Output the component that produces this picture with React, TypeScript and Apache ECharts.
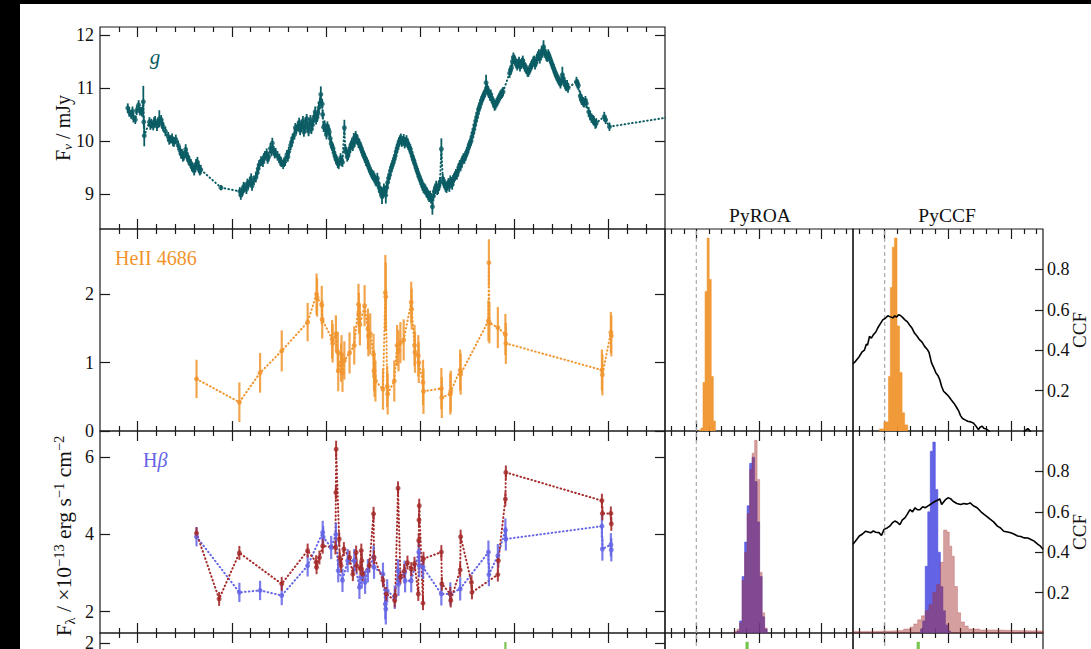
import React, { useEffect, useRef } from "react";
import * as echarts from "echarts";

const FONT = '"Liberation Serif", "Times New Roman", Times, serif';
const TEAL = "#0b5d64";
const ORANGE = "#f0952e";
const BLUE = "#6464e6";
const RED = "#a52a2a";
const GREEN = "#6cbf3f";
const HIST_BLUE = "#4848e0";
const INK = "#1a1a1a";

// ---------- light curves: [day, flux, error] ----------
const gData = [
  [-2.1,10.62,.09],[-1.8,10.55,.09],[-1.4,10.50,.08],[-1.1,10.56,.09],[-0.9,10.44,.09],[-0.5,10.40,.08],[-0.2,10.58,.09],[0.2,10.68,.09],[0.5,10.56,.08],[0.9,10.55,.09],
  [1.2,10.74,.30],[1.3,10.36,.10],[1.4,10.10,.20],
  [2.5,10.36,.09],[2.7,10.30,.09],[2.9,10.33,.09],[3.3,10.28,.08],[3.5,10.36,.09],[3.7,10.38,.09],[4.1,10.28,.09],[4.3,10.34,.09],[4.6,10.42,.16],[5.0,10.40,.09],[5.2,10.32,.09],[5.4,10.27,.09],[5.9,10.18,.09],
  [6.5,10.08,.09],[6.7,10.02,.09],[6.9,10.03,.08],[7.3,10.05,.09],[7.5,9.99,.09],[7.7,9.98,.09],[8.1,10.03,.09],[8.6,9.92,.09],[9.0,9.82,.09],[9.2,9.76,.09],[9.4,9.76,.09],[9.6,9.70,.09],[9.8,9.72,.09],[10.2,9.84,.10],[10.4,9.74,.09],[10.6,9.70,.09],[10.8,9.64,.09],[11.0,9.62,.09],[11.3,9.57,.09],[11.5,9.52,.09],[11.7,9.50,.09],[12.0,9.44,.09],[12.2,9.50,.09],[12.4,9.56,.10],[12.7,9.60,.10],[12.9,9.52,.09],[13.0,9.48,.09],[13.2,9.44,.09],[13.4,9.46,.09],
  [17.7,9.12,.05],
  [21.7,9.05,.08],[21.9,8.98,.09],[22.1,9.03,.09],[22.3,9.06,.09],[22.5,9.14,.09],[22.7,9.12,.09],[23.1,9.09,.09],[23.3,9.20,.09],[23.5,9.18,.09],[23.9,9.23,.09],[24.1,9.30,.09],[24.3,9.15,.09],[24.7,9.26,.09],[25.1,9.31,.09],[25.4,9.40,.09],[25.6,9.48,.09],[25.8,9.55,.09],[26.2,9.62,.09],[26.6,9.60,.09],[26.8,9.68,.09],[27.0,9.72,.09],[27.4,9.77,.09],[27.6,9.66,.09],[27.8,9.70,.09],[28.2,9.86,.10],[28.4,9.80,.09],[28.6,9.96,.10],[28.9,9.82,.09],[29.1,9.76,.09],[29.3,9.78,.09],[29.7,9.72,.09],[30.1,9.67,.09],[30.3,9.62,.09],[30.5,9.60,.09],[30.9,9.56,.09],[31.1,9.60,.09],[31.3,9.62,.09],[31.7,9.74,.09],[31.9,9.70,.09],[32.1,9.80,.09],[32.5,9.92,.09],[32.7,9.98,.09],[32.9,10.05,.09],[33.3,10.12,.09],[33.5,10.25,.09],[33.7,10.22,.09],[34.1,10.28,.09],[34.3,10.35,.09],[34.5,10.20,.09],[34.7,10.26,.09],[34.9,10.30,.09],[35.1,10.38,.09],[35.3,10.17,.09],[35.5,10.24,.09],[35.7,10.35,.10],[35.9,10.42,.09],[36.1,10.26,.09],[36.3,10.18,.09],[36.5,10.33,.09],[36.7,10.40,.09],[36.9,10.22,.09],[37.1,10.30,.09],[37.3,10.38,.09],[37.5,10.46,.09],[37.7,10.55,.10],[37.9,10.40,.09],[38.1,10.45,.09],[38.3,10.52,.09],[38.5,10.63,.10],[38.7,10.72,.10],[38.9,10.88,.15],[39.2,10.70,.09],[39.3,10.50,.09],[39.5,10.26,.09],[39.7,10.30,.09],[39.9,10.20,.09],[40.1,10.12,.09],[40.3,10.28,.09],[40.5,10.22,.09],[40.7,10.17,.09],[40.9,10.05,.09],[41.1,9.95,.09],[41.3,9.90,.09],[41.5,9.86,.09],[41.7,9.78,.09],[41.9,9.72,.09],[42.1,9.66,.09],[42.3,9.63,.09],[42.5,9.58,.09],[42.7,9.56,.09],[43.1,9.68,.09],[43.3,9.62,.09],[43.5,9.60,.09],[43.9,10.25,.15],[44.1,9.84,.09],[44.3,9.80,.09],[44.5,9.70,.09],[44.7,9.73,.09],[44.9,9.80,.09],[45.1,9.86,.09],[45.3,9.92,.09],[45.5,9.96,.09],[45.7,9.90,.09],[45.9,10.05,.10],[46.1,9.98,.09],[46.3,10.10,.09],[46.5,10.04,.09],[46.7,10.02,.09],[46.9,9.96,.09],[47.1,9.95,.09],[47.3,9.90,.09],[47.5,9.86,.09],[47.7,9.80,.09],[47.9,9.76,.09],[48.1,9.72,.09],[48.3,9.68,.09],[48.5,9.62,.09],[48.7,9.60,.09],[48.9,9.56,.09],[49.1,9.50,.09],[49.3,9.46,.09],[49.5,9.42,.09],[49.7,9.38,.09],[49.9,9.35,.09],[50.1,9.34,.10],[50.3,9.30,.10],[50.5,9.26,.10],[50.7,9.24,.10],[50.9,9.30,.10],[51.1,9.20,.10],[51.3,9.12,.10],[51.5,9.06,.10],[51.7,9.04,.10],[51.9,8.95,.14],[52.1,9.02,.10],[52.3,9.10,.10],[52.5,9.06,.10],[52.7,8.98,.16],[52.9,9.12,.10],[53.1,9.22,.10],[53.3,9.30,.09],[53.5,9.36,.09],[53.7,9.44,.09],[53.9,9.50,.09],[54.1,9.55,.09],[54.3,9.60,.09],[54.5,9.66,.09],[54.7,9.72,.09],[54.9,9.80,.09],[55.1,9.86,.09],[55.3,9.92,.09],[55.5,9.98,.09],[55.7,10.02,.09],[55.9,10.05,.09],[56.1,9.98,.09],[56.3,10.00,.09],[56.5,10.04,.09],[56.7,9.95,.09],[56.9,9.98,.09],[57.1,10.02,.09],[57.3,9.96,.09],[57.5,9.92,.09],[57.7,9.88,.09],[57.9,9.85,.09],[58.1,9.78,.09],[58.3,9.72,.09],[58.5,9.66,.09],[58.7,9.62,.09],[58.9,9.56,.09],[59.1,9.50,.09],[59.3,9.45,.09],[59.5,9.40,.09],[59.7,9.34,.09],[59.9,9.30,.09],[60.1,9.26,.09],[60.3,9.20,.09],[60.5,9.16,.10],[60.7,9.12,.10],[60.9,9.10,.10],[61.1,9.08,.10],[61.3,9.04,.10],[61.5,9.02,.10],[61.7,8.98,.10],[61.9,8.95,.10],[62.1,8.96,.10],[62.3,8.92,.10],[62.6,8.76,.15],[62.8,8.96,.10],[63.0,9.05,.10],[63.2,9.10,.10],[63.4,9.15,.10],[63.6,9.08,.10],[63.8,9.10,.10],[64.0,9.16,.10],[64.2,9.22,.10],[64.5,9.85,.20],[64.8,9.28,.10],[65.0,9.22,.10],[65.2,9.18,.10],[65.4,9.14,.10],[65.6,9.12,.10],[65.8,9.16,.10],[66.0,9.20,.10],[66.2,9.14,.10],[66.4,9.25,.10],[66.6,9.22,.10],[66.8,9.18,.10],[67.0,9.26,.10],[67.2,9.30,.09],[67.4,9.34,.09],[67.6,9.38,.09],[67.8,9.36,.09],[68.0,9.42,.09],[68.2,9.50,.09],[68.4,9.55,.09],[68.6,9.52,.09],[68.8,9.60,.09],[69.0,9.64,.09],[69.2,9.68,.09],[69.4,9.66,.09],[69.6,9.72,.09],[69.8,9.76,.09],[70.0,9.80,.09],[70.2,9.86,.09],[70.4,9.92,.09],[70.6,9.96,.09],[70.8,10.00,.09],[71.0,10.08,.09],[71.2,10.15,.09],[71.4,10.22,.09],[71.6,10.30,.09],[71.8,10.38,.09],[72.0,10.45,.09],[72.2,10.52,.09],[72.4,10.60,.09],[72.6,10.64,.09],[72.8,10.70,.09],[73.0,10.76,.09],[73.2,10.80,.09],[73.4,10.84,.09],[73.6,10.88,.09],[73.8,10.92,.09],[74.0,11.10,.15],[74.2,11.00,.09],[74.4,10.95,.09],[74.6,10.90,.09],[74.8,10.85,.09],[75.0,10.88,.09],[75.2,10.80,.09],[75.4,10.76,.09],[75.6,10.72,.09],[75.8,10.66,.09],[76.0,10.68,.09],[76.2,10.72,.09],[76.4,10.75,.09],[76.6,10.78,.09],[76.8,10.82,.09],[77.0,10.86,.09],[77.2,10.88,.09],[77.4,10.90,.09],[77.6,10.93,.09],
  [79.0,11.28,.09],[79.2,11.34,.09],[79.4,11.38,.09],[79.6,11.50,.09],[79.8,11.58,.09],[80.0,11.54,.09],[80.2,11.50,.09],[80.4,11.46,.09],[80.6,11.42,.09],[80.8,11.46,.09],[81.0,11.50,.09],[81.2,11.40,.09],[81.4,11.45,.09],[81.6,11.48,.09],[81.8,11.52,.09],[82.0,11.45,.09],[82.2,11.40,.09],[82.4,11.38,.09],[82.6,11.35,.09],[82.8,11.30,.09],[83.0,11.30,.09],[83.2,11.34,.09],[83.4,11.38,.09],[83.6,11.42,.09],[83.8,11.45,.09],[84.0,11.50,.09],[84.2,11.52,.09],[84.4,11.44,.09],[84.6,11.48,.09],[84.8,11.55,.09],[85.0,11.60,.09],[85.2,11.64,.09],[85.4,11.55,.09],[85.6,11.62,.09],[85.8,11.70,.09],[86.0,11.66,.09],[86.2,11.78,.12],[86.4,11.70,.09],[86.6,11.65,.09],[86.8,11.60,.09],[87.0,11.58,.09],[87.2,11.64,.09],[87.4,11.60,.09],[87.6,11.55,.09],[87.8,11.50,.09],[88.0,11.45,.09],[88.2,11.40,.09],[88.4,11.36,.09],[88.6,11.30,.09],[88.8,11.26,.09],[89.0,11.22,.09],[89.2,11.18,.09],[89.4,11.15,.09],[89.6,11.12,.09],[89.8,11.08,.09],[90.0,11.14,.09],[90.2,11.25,.15],[90.4,11.18,.09],[90.6,11.12,.09],[90.8,11.06,.09],[91.0,11.03,.09],[91.2,11.06,.09],[91.4,11.00,.09],
  [93.2,11.12,.09],[93.4,11.08,.09],[93.6,11.05,.09],[94.0,10.85,.09],[94.2,10.80,.09],[94.3,10.77,.09],[94.6,10.74,.09],[94.8,10.72,.09],[95.1,10.76,.09],[95.3,10.71,.09],[95.8,10.55,.09],[96.1,10.48,.09],[96.4,10.43,.09],[96.7,10.40,.09],[96.9,10.38,.09],[97.2,10.32,.09],[97.4,10.34,.09],[99.1,10.46,.09],[99.4,10.40,.08],[100.2,10.27,.08],
  [118,10.52,.06],
];

const heData = [
  [12.5,0.76,0.28],[21.6,0.42,0.29],[26.0,0.85,0.29],[30.6,1.17,0.30],[36.1,1.59,0.28],[38.0,2.00,0.30],[38.1,1.95,0.28],[39.1,1.84,0.28],[39.2,1.63,0.28],
  [41.3,1.34,0.28],[41.4,1.28,0.28],[42.1,1.42,0.27],[42.5,1.15,0.30],[42.6,0.88,0.30],[43.2,1.00,0.28],[43.3,1.12,0.28],[43.5,0.85,0.28],[43.9,1.03,0.28],
  [45.0,1.14,0.30],[46.0,1.25,0.28],[46.9,1.85,0.30],[47.0,1.72,0.30],[47.2,1.55,0.30],[48.2,1.83,0.30],[48.9,1.49,0.30],[49.0,1.39,0.30],[49.4,1.42,0.30],
  [50.1,1.12,0.30],[50.2,0.88,0.30],[50.3,0.80,0.30],[50.5,0.73,0.30],[52.1,0.61,0.30],[52.6,2.02,0.55],[52.7,1.96,0.50],[53.0,0.65,0.30],[53.1,0.54,0.30],
  [54.5,0.73,0.30],[55.1,1.25,0.30],[55.4,1.17,0.30],[55.8,1.29,0.30],[56.5,1.33,0.30],[58.1,1.88,0.30],[58.2,1.78,0.30],[58.8,1.25,0.30],[58.9,1.15,0.30],
  [59.6,1.10,0.30],[59.7,1.00,0.30],[60.6,0.71,0.33],[60.7,0.58,0.33],[64.5,0.62,0.30],[64.6,0.49,0.30],[66.4,0.54,0.30],[66.5,0.58,0.30],[68.5,0.89,0.30],
  [68.6,0.83,0.30],[74.5,1.61,0.30],[74.6,2.46,0.34],[74.7,1.58,0.30],[76.5,1.51,0.30],[78.1,1.41,0.30],[78.2,1.28,0.30],[98.6,0.89,0.30],[98.7,0.82,0.30],
  [100.5,1.44,0.30],[100.6,1.39,0.30],
];

const hbBlueData = [
  [12.5,3.94,0.25],[21.6,2.50,0.25],[26.0,2.55,0.25],[30.6,2.42,0.25],[36.1,3.19,0.28],[39.3,4.05,0.30],[39.4,3.93,0.28],[41.1,3.66,0.30],[42.1,4.00,0.30],
  [42.6,3.06,0.30],[43.5,2.81,0.30],[44.6,3.32,0.30],[46.0,3.32,0.30],[47.1,2.63,0.30],[47.6,2.90,0.30],[48.3,2.76,0.30],[48.9,3.06,0.30],[50.1,3.41,0.30],
  [50.2,3.15,0.30],[52.1,2.97,0.30],[52.6,2.20,0.40],[52.7,2.07,0.40],[53.0,2.54,0.30],[54.6,2.37,0.30],[55.3,3.06,0.30],[55.4,2.71,0.30],[56.7,3.02,0.30],
  [56.8,2.80,0.30],[58.1,2.80,0.30],[59.7,3.54,0.30],[59.8,3.19,0.30],[60.6,3.15,0.30],[64.5,2.46,0.30],[66.4,2.46,0.30],[68.5,2.59,0.30],[74.5,3.54,0.30],
  [74.6,2.96,0.30],[76.5,3.45,0.30],[78.1,4.11,0.30],[78.2,3.88,0.30],[98.6,4.21,0.30],[98.7,3.62,0.30],[100.5,3.73,0.30],[100.6,3.60,0.30],
];

const hbRedData = [
  [12.5,4.03,0.15],[17.3,2.33,0.18],[21.6,3.52,0.18],[30.6,2.72,0.18],[36.1,3.58,0.18],[37.9,3.28,0.18],[38.0,3.15,0.18],[38.6,3.40,0.18],[39.3,3.70,0.20],
  [42.0,3.66,0.18],[42.1,5.08,0.18],[42.15,6.20,0.22],[42.8,3.88,0.18],[42.9,3.40,0.18],[43.2,3.19,0.18],[43.8,3.62,0.18],[45.0,3.40,0.18],[45.7,2.97,0.18],
  [46.4,3.53,0.18],[46.5,3.19,0.18],[47.3,3.11,0.18],[47.5,3.58,0.18],[47.6,3.32,0.18],[47.8,2.97,0.18],[49.2,3.19,0.18],[50.1,4.53,0.18],[50.2,3.41,0.18],
  [52.1,2.81,0.18],[52.8,2.46,0.18],[54.6,2.29,0.18],[54.7,2.42,0.18],[55.3,5.19,0.18],[55.8,2.89,0.18],[56.6,3.05,0.18],[57.3,3.27,0.18],[58.1,3.10,0.18],
  [58.8,3.24,0.18],[59.6,2.46,0.18],[59.7,3.84,0.18],[59.75,4.37,0.18],[59.8,4.74,0.18],[60.6,2.22,0.18],[60.7,3.37,0.18],[64.5,3.54,0.18],[64.6,2.72,0.18],
  [66.4,2.46,0.18],[66.5,2.29,0.18],[68.5,3.08,0.18],[68.6,3.94,0.18],[70.9,2.76,0.18],[71.0,2.50,0.18],[76.5,2.96,0.18],[76.6,3.32,0.18],[78.1,4.91,0.18],
  [78.2,5.60,0.18],[98.6,4.87,0.18],[98.7,4.54,0.18],[100.5,4.54,0.18],[100.6,4.27,0.18],
];

const greenData = [
  [12.5,1.20,0.20],[21.6,1.00,0.20],[36.1,1.30,0.20],[42.1,1.40,0.20],[50.1,1.10,0.20],[60.6,1.00,0.20],[68.5,1.20,0.20],[78.1,1.75,0.26],[98.6,1.50,0.20],
];

// ---------- lag distributions (normalised) ----------
const roaHeEdges = [0.4,0.73,1.06,1.39,1.72,2.05,2.38,2.71,3.04];
const roaHeCounts = [0.005,0.015,0.24,0.69,0.955,0.75,0.27,0.05];
const ccfHeEdges = [-0.85,-0.1,0.6,0.9,1.2,1.55,1.95,2.35,2.75,3.15,3.65];
const ccfHeCounts = [0.01,0.045,0.27,0.71,0.91,0.955,0.52,0.29,0.09,0.03];

const roaHbEdges = [6.1,6.5,6.9,7.3,7.7,8.1,8.5,8.9,9.3,9.7,10.1,10.5,10.9,11.3];
const roaHbBlueCounts = [0.0,0.01,0.06,0.28,0.45,0.63,0.84,0.87,0.75,0.55,0.28,0.08,0.02];
const roaHbRedCounts = [0.01,0.02,0.05,0.26,0.40,0.59,0.81,0.89,0.954,0.76,0.30,0.10,0.025];
const ccfHbBlueEdges = [5.6,6.0,6.4,6.8,7.2,7.6,8.0,8.4,8.8,9.2,9.6,10.0,10.4];
const ccfHbBlueCounts = [0.02,0.06,0.33,0.6,0.9,0.945,0.71,0.4,0.23,0.11,0.04,0.01];
const ccfHbRedEdges = [-5.0,-2.0,1.0,3.0,4.0,4.6,5.2,5.8,6.4,7.0,7.6,8.2,8.8,9.3,9.8,10.2,10.6,11.0,11.5,12.0,12.6,13.2,15.0,18.0,21.0,25.0];
const ccfHbRedCounts = [0.008,0.01,0.012,0.02,0.03,0.045,0.065,0.085,0.11,0.14,0.2,0.24,0.35,0.51,0.5,0.43,0.38,0.23,0.1,0.055,0.035,0.02,0.015,0.012,0.01];

const roaGreenEdges = [7.1,7.5,7.9,8.3,8.7];
const roaGreenCounts = [0.5,0.85,0.955,0.7];
const ccfGreenEdges = [4.3,4.7,5.1,5.5,5.9];
const ccfGreenCounts = [0.5,0.85,0.955,0.6];

// ---------- cross-correlation functions: [lag, r] ----------
const ccfHe = [
  [-5.0,0.333],[-4.6,0.345],[-4.0,0.369],[-3.6,0.39],[-3.2,0.40],[-2.9,0.43],[-2.7,0.425],[-2.4,0.468],[-2.1,0.46],[-1.8,0.476],[-1.4,0.49],[-1.1,0.51],
  [-0.7,0.53],[-0.3,0.55],[0.1,0.558],[0.5,0.57],[0.9,0.565],[1.3,0.56],[1.6,0.57],[1.9,0.564],[2.2,0.575],[2.5,0.572],[2.9,0.56],[3.2,0.55],[3.6,0.54],
  [3.9,0.526],[4.3,0.51],[4.7,0.485],[5.1,0.47],[5.5,0.452],[5.9,0.44],[6.3,0.419],[6.7,0.405],[7.0,0.39],[7.4,0.337],[7.8,0.31],[8.1,0.287],[8.4,0.275],
  [8.7,0.254],[9.0,0.22],[9.3,0.197],[9.7,0.185],[10.1,0.172],[10.5,0.155],[10.9,0.139],[11.3,0.12],[11.7,0.098],[12.0,0.075],[12.3,0.062],[12.7,0.055],
  [13.1,0.048],[13.6,0.045],[14.0,0.04],[14.4,0.025],[14.8,0.007],[15.1,0.02],[15.4,0.024],[15.7,0.012],[16.0,0.011],[16.4,0.002],[17.0,-0.02],[18.5,-0.05],
  [20.0,-0.04],[21.5,-0.02],[22.3,0.004],[22.6,0.012],[22.9,0.002],[23.5,-0.03],[25.0,-0.05],
];
const ccfHb = [
  [-5.0,0.439],[-4.6,0.455],[-4.0,0.48],[-3.5,0.49],[-3.0,0.504],[-2.6,0.50],[-2.2,0.496],[-1.8,0.505],[-1.4,0.499],[-0.9,0.497],[-0.5,0.483],[-0.1,0.513],
  [0.4,0.52],[0.8,0.529],[1.2,0.545],[1.6,0.554],[2.0,0.548],[2.4,0.537],[2.8,0.56],[3.2,0.57],[3.6,0.59],[4.0,0.611],[4.4,0.60],[4.8,0.62],[5.2,0.61],
  [5.6,0.611],[6.0,0.625],[6.4,0.62],[6.8,0.628],[7.2,0.636],[7.6,0.645],[8.0,0.652],[8.4,0.658],[8.7,0.664],[9.0,0.636],[9.3,0.648],[9.6,0.66],[10.0,0.669],
  [10.4,0.665],[10.8,0.652],[11.4,0.641],[12.0,0.636],[12.5,0.641],[13.0,0.638],[13.5,0.644],[14.0,0.63],[14.6,0.62],[15.2,0.60],[15.7,0.587],[16.2,0.575],
  [16.7,0.562],[17.2,0.55],[17.8,0.529],[18.3,0.52],[18.8,0.504],[19.4,0.50],[19.9,0.496],[20.4,0.49],[21.0,0.48],[21.5,0.478],[22.0,0.471],[22.6,0.47],
  [23.1,0.463],[23.6,0.455],[24.2,0.439],[24.6,0.43],[25.0,0.414],
];

// ---------- axis ticks ----------
const dayRange = [-8, 112];
const dayMajor = [0, 20, 40, 60, 80, 100];
const dayMinor = [-4, 4, 8, 12, 16, 24, 28, 32, 36, 44, 48, 52, 56, 64, 68, 72, 76, 84, 88, 92, 96, 104, 108];
const lagRange = [-5, 25];
const lagMajor = [0, 10, 20];
const lagMinor = [-4, -2, 2, 4, 6, 8, 12, 14, 16, 18, 22, 24];
const zeroLag = 0;
const gTicks = [9, 10, 11, 12];
const heTicks = [0, 1, 2];
const hbTicks = [2, 4, 6];
const r4Ticks = [0, 1, 2];
const ccfTicks = [0.2, 0.4, 0.6, 0.8];

const tickLine = { color: INK, width: 1.2 };

export default function App() {
  const ref = useRef<HTMLDivElement>(null);

  useEffect(() => {
    if (!ref.current) return;
    const chart = echarts.init(ref.current, null, { renderer: "svg" });

    const grids = [
      { left: 100, top: 27, width: 565, height: 202 },  // 0 g
      { left: 100, top: 229, width: 565, height: 202 }, // 1 HeII
      { left: 100, top: 431, width: 565, height: 202 }, // 2 Hb
      { left: 100, top: 633, width: 565, height: 202 }, // 3 row4
      { left: 665, top: 229, width: 188, height: 202 }, // 4 ROA He
      { left: 853, top: 229, width: 190, height: 202 }, // 5 CCF He
      { left: 665, top: 431, width: 188, height: 202 }, // 6 ROA Hb
      { left: 853, top: 431, width: 190, height: 202 }, // 7 CCF Hb
      { left: 665, top: 633, width: 188, height: 202 }, // 8 ROA r4
      { left: 853, top: 633, width: 190, height: 202 }, // 9 CCF r4
    ].map((g) => ({ ...g, show: true, borderColor: INK, borderWidth: 1.2, backgroundColor: "transparent", containLabel: false }));

    const xAxis: any[] = [];
    const xi: number[] = [];
    const addX = (gi: number, range: number[], major: number[], minor: number[]) => {
      xi[gi] = xAxis.length;
      const base = {
        type: "value", gridIndex: gi, min: range[0], max: range[1],
        axisLine: { show: false, onZero: false }, splitLine: { show: false },
        axisLabel: { show: false }, axisPointer: { show: false },
      };
      const mk = (pos: string, vals: number[], len: number) => ({
        ...base, position: pos,
        axisTick: { show: true, inside: true, length: len, customValues: vals, lineStyle: tickLine },
      });
      xAxis.push(mk("bottom", major, 10), mk("bottom", minor, 5), mk("top", major, 10), mk("top", minor, 5));
    };
    for (let gi = 0; gi < 4; gi++) addX(gi, dayRange, dayMajor, dayMinor);
    for (let gi = 4; gi < 10; gi++) addX(gi, lagRange, lagMajor, lagMinor);

    const yAxis: any[] = [];
    const yi: number[] = [];
    const labelStyle = { fontFamily: FONT, fontSize: 18, color: "#111" };
    const addMainY = (gi: number, min: number, max: number, vals: number[]) => {
      yi[gi] = yAxis.length;
      const base = {
        type: "value", gridIndex: gi, min, max,
        axisLine: { show: false, onZero: false }, splitLine: { show: false },
        axisTick: { show: true, inside: true, length: 10, customValues: vals, lineStyle: tickLine },
      };
      yAxis.push(
        { ...base, position: "left", axisLabel: { show: true, customValues: vals, margin: 6, ...labelStyle } },
        { ...base, position: "right", axisLabel: { show: false } },
      );
    };
    addMainY(0, 8.34, 12.15, gTicks);
    addMainY(1, 0, 2.95, heTicks);
    addMainY(2, 1.45, 6.67, hbTicks);
    addMainY(3, 0, 2.104, r4Ticks);
    const addLagY = (gi: number, ccf: boolean) => {
      yi[gi] = yAxis.length;
      yAxis.push({
        type: "value", gridIndex: gi, min: 0, max: 1, position: "right",
        axisLine: { show: false, onZero: false }, splitLine: { show: false },
        axisTick: { show: ccf, inside: true, length: 8, customValues: ccfTicks, lineStyle: tickLine },
        axisLabel: { show: ccf, customValues: ccfTicks, margin: 4, ...labelStyle },
      });
    };
    addLagY(4, false); addLagY(5, true); addLagY(6, false); addLagY(7, true); addLagY(8, false); addLagY(9, true);

    const errSeries = (gi: number, data: number[][], color: string, width: number, opacity: number) => ({
      type: "custom", xAxisIndex: xi[gi], yAxisIndex: yi[gi], clip: true, silent: true, z: 3,
      data,
      encode: { x: 0, y: 1 },
      renderItem: (_p: any, api: any) => {
        const x = api.value(0), y = api.value(1), e = api.value(2);
        const a = api.coord([x, y - e]);
        const b = api.coord([x, y + e]);
        return { type: "line", shape: { x1: a[0], y1: a[1], x2: b[0], y2: b[1] }, style: { stroke: color, lineWidth: width, opacity } };
      },
    });
    const lineSeries = (gi: number, data: number[][], color: string) => ({
      type: "line", xAxisIndex: xi[gi], yAxisIndex: yi[gi], silent: true, z: 2,
      data: data.map((d) => [d[0], d[1]]), symbol: "none", clip: true,
      lineStyle: { color, width: 2, type: [0.6, 3.2], cap: "round" },
    });
    const ptSeries = (gi: number, data: number[][], color: string, size: number) => ({
      type: "scatter", xAxisIndex: xi[gi], yAxisIndex: yi[gi], silent: true, z: 4, clip: true,
      data: data.map((d) => [d[0], d[1]]), symbol: "circle", symbolSize: size,
      itemStyle: { color },
    });
    const lc = (gi: number, data: number[][], color: string, size: number, ew: number, eo: number) => [
      lineSeries(gi, data, color), errSeries(gi, data, color, ew, eo), ptSeries(gi, data, color, size),
    ];
    const hist = (gi: number, edges: number[], counts: number[], color: string, opacity: number, z: number) => ({
      type: "line", xAxisIndex: xi[gi], yAxisIndex: yi[gi], silent: true, z, step: "end", symbol: "none",
      data: edges.map((e, i) => [e, i < counts.length ? counts[i] : 0]),
      lineStyle: { color, width: 0.6, opacity },
      areaStyle: { color, opacity },
    });
    const zeroLine = (gi: number) => ({
      type: "line", xAxisIndex: xi[gi], yAxisIndex: yi[gi], silent: true, z: 1, symbol: "none",
      data: [[zeroLag, 0], [zeroLag, 1]],
      lineStyle: { color: "#aaaaaa", width: 1.2, type: [4, 3] },
    });
    const ccfLine = (gi: number, data: number[][]) => ({
      type: "line", xAxisIndex: xi[gi], yAxisIndex: yi[gi], silent: true, z: 6, symbol: "none", clip: true,
      data, lineStyle: { color: "#000", width: 1.6 },
    });

    const series: any[] = [
      ...lc(0, gData, TEAL, 5, 1.8, 1),
      ...lc(1, heData, ORANGE, 5, 2.2, 0.85),
      ...lc(2, hbBlueData, BLUE, 5, 2.2, 0.85),
      ...lc(2, hbRedData, RED, 5, 2.0, 0.9),
      ...lc(3, greenData, GREEN, 5, 2.2, 0.9),
      zeroLine(4), zeroLine(5), zeroLine(6), zeroLine(7), zeroLine(8), zeroLine(9),
      hist(4, roaHeEdges, roaHeCounts, ORANGE, 0.95, 3),
      hist(5, ccfHeEdges, ccfHeCounts, ORANGE, 0.95, 3),
      hist(6, roaHbEdges, roaHbBlueCounts, HIST_BLUE, 0.85, 3),
      hist(6, roaHbEdges, roaHbRedCounts, RED, 0.45, 4),
      hist(7, ccfHbBlueEdges, ccfHbBlueCounts, HIST_BLUE, 0.85, 3),
      hist(7, ccfHbRedEdges, ccfHbRedCounts, RED, 0.45, 4),
      hist(8, roaGreenEdges, roaGreenCounts, GREEN, 0.9, 3),
      hist(9, ccfGreenEdges, ccfGreenCounts, GREEN, 0.9, 3),
      ccfLine(5, ccfHe), ccfLine(7, ccfHb),
    ];

    const txt = (x: number, y: number, text: string, extra: any = {}, rot = 0) => ({
      type: "text", x, y, rotation: rot, z: 50,
      style: { text, fontFamily: FONT, fontSize: 20, fill: "#111", align: "center", verticalAlign: "middle", ...extra },
    });
    const richBase = { fontFamily: FONT, fontSize: 20, fill: "#111" };
    const richSmall = { fontFamily: FONT, fontSize: 13.5, fill: "#111" };

    const graphic: any[] = [
      txt(155, 57, "g", { fill: TEAL, fontStyle: "italic", fontSize: 21 }),
      txt(115, 258, "HeII 4686", { fill: ORANGE, align: "left", fontSize: 20 }),
      {
        type: "text", x: 143, y: 460, z: 50,
        style: {
          text: "{a|H}{b|β}", align: "left", verticalAlign: "middle",
          rich: { a: { fontFamily: FONT, fontSize: 20, fill: BLUE }, b: { fontFamily: FONT, fontSize: 20, fontStyle: "italic", fill: BLUE } },
        },
      },
      txt(760, 215, "PyROA", { fontSize: 19.5 }),
      txt(947, 215, "PyCCF", { fontSize: 19.5 }),
      txt(1079, 330, "CCF", { fontSize: 19 }, Math.PI / 2),
      txt(1079, 532, "CCF", { fontSize: 19 }, Math.PI / 2),
      {
        type: "text", x: 63, y: 128, rotation: Math.PI / 2, z: 50,
        style: {
          text: "{a|F}{s|ν}{a| / mJy}", align: "center", verticalAlign: "middle",
          rich: { a: { ...richBase, lineHeight: 22 }, s: { ...richSmall, fontStyle: "italic", lineHeight: 22, verticalAlign: "bottom", padding: [8, 0, 0, 0] } },
        },
      },
      {
        type: "text", x: 64, y: 536, rotation: Math.PI / 2, z: 50,
        style: {
          text: "{a|F}{s|λ}{a| / ×10}{p|−13}{a| erg s}{p|−1}{a| cm}{p|−2}", align: "center", verticalAlign: "middle",
          rich: {
            a: { fontFamily: FONT, fontSize: 21.5, fill: "#111", lineHeight: 26 },
            s: { fontFamily: FONT, fontSize: 14.5, fill: "#111", lineHeight: 26, verticalAlign: "bottom", padding: [9, 0, 0, 0] },
            p: { fontFamily: FONT, fontSize: 14.5, fill: "#111", lineHeight: 26, verticalAlign: "top", padding: [0, 0, 9, 0] },
          },
        },
      },
      { type: "rect", z: 100, shape: { x: 0, y: 0, width: 20, height: 900 }, style: { fill: "#000" } },
      { type: "rect", z: 100, shape: { x: 0, y: 0, width: 1091, height: 4 }, style: { fill: "#000" } },
    ];

    chart.setOption({
      animation: false,
      backgroundColor: "#fff",
      grid: grids,
      xAxis,
      yAxis,
      series,
      graphic,
    });

    return () => chart.dispose();
  }, []);

  return (
    <div
      ref={ref}
      style={{ position: "fixed", left: 0, top: 0, width: 1091, height: 880, background: "#fff" }}
    />
  );
}
